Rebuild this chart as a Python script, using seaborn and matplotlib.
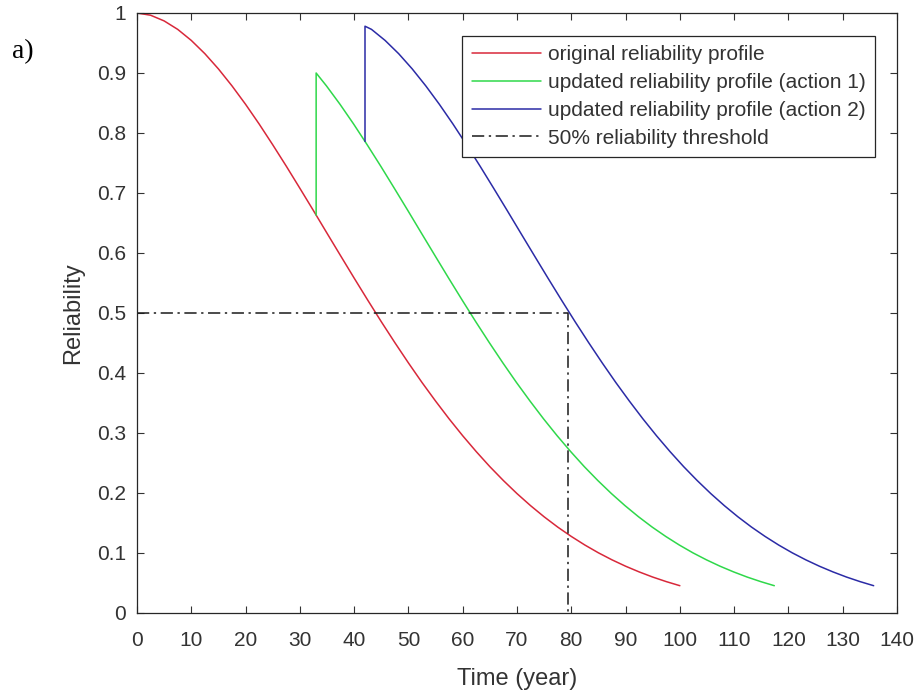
import matplotlib
matplotlib.use("Agg")
import matplotlib.pyplot as plt
import seaborn as sns
import numpy as np

# ---- data ----
red_t = [0, 2.5, 5, 7.5, 10, 12.5, 15, 17.5, 20, 22.5, 25, 27.5, 30, 32.5, 35, 37.5, 40,
         42.5, 45, 47.5, 50, 52.5, 55, 57.5, 60, 62.5, 65, 67.5, 70, 72.5, 75, 77.5, 80,
         82.5, 85, 87.5, 90, 92.5, 95, 97.5, 100]
red_r = [1.0, 0.9963, 0.9868, 0.9727, 0.9543, 0.9322, 0.9068, 0.8785, 0.8478, 0.8150,
         0.7804, 0.7447, 0.7079, 0.6707, 0.6330, 0.5955, 0.5582, 0.5215, 0.4855, 0.4506,
         0.4168, 0.3842, 0.3532, 0.3235, 0.2954, 0.2689, 0.2439, 0.2207, 0.1990, 0.1789,
         0.1603, 0.1432, 0.1276, 0.1133, 0.1003, 0.0886, 0.0780, 0.0685, 0.0599, 0.0523,
         0.0455]

green_t = [33, 33, 34.9, 37.4, 39.9, 42.4, 44.9, 47.4, 49.9, 52.4, 54.9, 57.4, 59.9, 62.4,
           64.9, 67.4, 69.9, 72.4, 74.9, 77.4, 79.9, 82.4, 84.9, 87.4, 89.9, 92.4, 94.9,
           97.4, 99.9, 102.4, 104.9, 107.4, 109.9, 112.4, 114.9, 117.4]
green_r = [0.663, 0.900, 0.8785, 0.8478, 0.8150, 0.7804, 0.7447, 0.7079, 0.6707, 0.6330,
           0.5955, 0.5582, 0.5215, 0.4855, 0.4506, 0.4168, 0.3842, 0.3532, 0.3235, 0.2954,
           0.2689, 0.2439, 0.2207, 0.1990, 0.1789, 0.1603, 0.1432, 0.1276, 0.1133, 0.1003,
           0.0886, 0.0780, 0.0685, 0.0599, 0.0523, 0.0455]

blue_t = [42, 42, 43.2, 45.7, 48.2, 50.7, 53.2, 55.7, 58.2, 60.7, 63.2, 65.7, 68.2, 70.7,
          73.2, 75.7, 78.2, 80.7, 83.2, 85.7, 88.2, 90.7, 93.2, 95.7, 98.2, 100.7, 103.2,
          105.7, 108.2, 110.7, 113.2, 115.7, 118.2, 120.7, 123.2, 125.7, 128.2, 130.7,
          133.2, 135.7]
blue_r = [0.786, 0.978, 0.9727, 0.9543, 0.9322, 0.9068, 0.8785, 0.8478, 0.8150, 0.7804,
          0.7447, 0.7079, 0.6707, 0.6330, 0.5955, 0.5582, 0.5215, 0.4855, 0.4506, 0.4168,
          0.3842, 0.3532, 0.3235, 0.2954, 0.2689, 0.2439, 0.2207, 0.1990, 0.1789, 0.1603,
          0.1432, 0.1276, 0.1133, 0.1003, 0.0886, 0.0780, 0.0685, 0.0599, 0.0523, 0.0455]

thr_t = [0, 79.4, 79.4]
thr_r = [0.5, 0.5, 0.0]

labels = ["original reliability profile",
          "updated reliability profile (action 1)",
          "updated reliability profile (action 2)",
          "50% reliability threshold"]

x_ticks = list(range(0, 141, 10))
y_ticks = [0, 0.1, 0.2, 0.3, 0.4, 0.5, 0.6, 0.7, 0.8, 0.9, 1.0]
y_tick_labels = ["0", "0.1", "0.2", "0.3", "0.4", "0.5", "0.6", "0.7", "0.8", "0.9", "1"]

# ---- plot ----
sns.set_theme(style="ticks")
plt.rcParams["font.family"] = ["Liberation Sans", "DejaVu Sans"]

fig = plt.figure(figsize=(9.2, 6.92), dpi=100)
ax = fig.add_axes([137 / 920, 1 - 613 / 692, 760 / 920, 600 / 692])

lw = 1.1
sns.lineplot(x=red_t, y=red_r, ax=ax, sort=False, estimator=None,
             color="#d8283a", lw=lw, label=labels[0])
sns.lineplot(x=green_t, y=green_r, ax=ax, sort=False, estimator=None,
             color="#2fd84a", lw=lw, label=labels[1])
sns.lineplot(x=blue_t, y=blue_r, ax=ax, sort=False, estimator=None,
             color="#2b2ba6", lw=lw, label=labels[2])
sns.lineplot(x=thr_t, y=thr_r, ax=ax, sort=False, estimator=None,
             color="#1a1a1a", lw=1.1, linestyle=(0, (8, 3, 1.5, 3)), label=labels[3])

ax.set_xlim(0, 140)
ax.set_ylim(0, 1)
ax.set_xticks(x_ticks)
ax.set_xticklabels([str(v) for v in x_ticks])
ax.set_yticks(y_ticks)
ax.set_yticklabels(y_tick_labels)

ax.tick_params(direction="in", top=True, right=True, length=5, width=0.8,
               labelsize=15, colors="#333333", pad=8)
ax.tick_params(axis="x", pad=13)
ax.tick_params(axis="y", pad=8)
for s in ax.spines.values():
    s.set_visible(True)
    s.set_color("#262626")
    s.set_linewidth(0.9)

ax.set_xlabel("Time (year)", fontsize=17, color="#333333", labelpad=13)
ax.set_ylabel("Reliability", fontsize=17, color="#333333", labelpad=9)

leg = ax.legend(loc="upper right", bbox_to_anchor=(738 / 760, (613 - 36) / 600),
                borderaxespad=0, fontsize=15, frameon=True, fancybox=False,
                edgecolor="#262626", framealpha=1, handlelength=3.3,
                handletextpad=0.35, labelspacing=0.42, borderpad=0.45)
leg.get_frame().set_linewidth(0.9)
for t in leg.get_texts():
    t.set_color("#333333")

fig.text(12 / 920, 1 - 52 / 692, "a)", family=["Liberation Serif", "DejaVu Serif"],
         fontsize=20, va="center", ha="left", color="black")

fig.savefig("out.png", dpi=100)
